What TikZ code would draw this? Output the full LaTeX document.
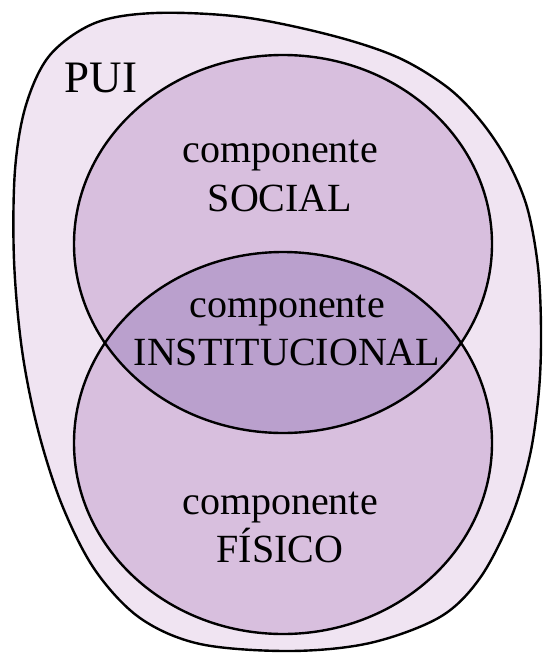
\documentclass[tikz,border=0pt]{standalone}
\usepackage{fontspec}
\setmainfont{Liberation Serif}
\definecolor{outerfill}{RGB}{240,228,242}
\definecolor{ellfill}{RGB}{216,191,222}
\definecolor{lensfill}{RGB}{186,160,205}
\begin{document}
\begin{tikzpicture}[x=1pt,y=-1pt,
  outline/.style={draw=black,line width=2.4pt},
  lbl/.style={font=\rmfamily\fontsize{40}{48}\selectfont,align=center,inner sep=0pt,anchor=base},
  biglbl/.style={font=\rmfamily\fontsize{45}{50}\selectfont,inner sep=0pt,anchor=base}]
\useasboundingbox (0,0) rectangle (542,655);
% outer PUI blob
\draw[outline,fill=outerfill] plot[smooth cycle,tension=0.55] coordinates {
 (155,13) (242,17) (330,35) (397,57) (447,87) (480,120) (507,160) (527,207)
 (538,267) (541,330) (539,390) (530,455) (511,518) (480,578) (440,617)
 (370,643) (290,651) (200,644) (140,618) (95,570) (62,505) (38,430)
 (22,350) (14,260) (15,170) (26,105) (50,55) (95,23)};
% ellipses fills
\fill[ellfill] (283,244) ellipse [x radius=209, y radius=189];
\fill[ellfill] (283,443) ellipse [x radius=209, y radius=191];
\begin{scope}
  \clip (283,244) ellipse [x radius=209, y radius=189];
  \fill[lensfill] (283,443) ellipse [x radius=209, y radius=191];
\end{scope}
\draw[outline] (283,244) ellipse [x radius=209, y radius=189];
\draw[outline] (283,443) ellipse [x radius=209, y radius=191];
% labels
\node[biglbl] (pui) at (101,93) {PUI};
\node[lbl] (social) at (280,211) {componente\\SOCIAL};
\node[lbl] (inst) at (287,365) {componente\\INSTITUCIONAL};
\node[lbl] (fisico) at (280,562) {componente\\FÍSICO};
\end{tikzpicture}
\end{document}
